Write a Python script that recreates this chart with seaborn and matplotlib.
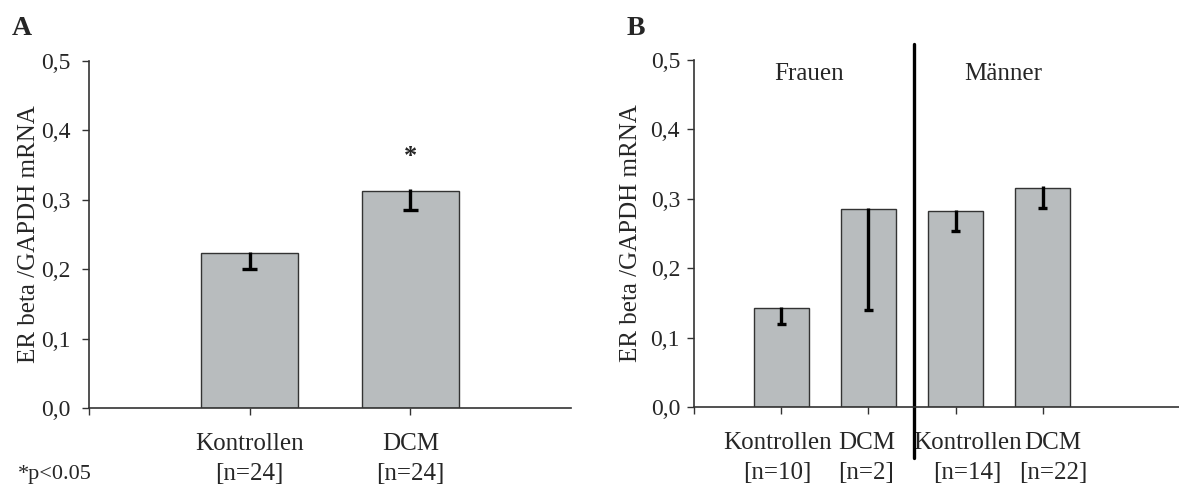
import numpy as np
import pandas as pd
import matplotlib
matplotlib.use("Agg")
import matplotlib.pyplot as plt
import matplotlib.transforms as mtransforms
import seaborn as sns

# data
a_groups = ["Kontrollen\n[n=24]", "DCM\n[n=24]"]
a_means = [0.223, 0.313]
a_lower = [0.200, 0.285]

b_groups = ["Kontrollen\n[n=10]", "DCM\n[n=2]", "Kontrollen\n[n=14]", "DCM\n[n=22]"]
b_means = [0.142, 0.285, 0.282, 0.316]
b_lower = [0.120, 0.140, 0.253, 0.287]

y_ticks = [0.0, 0.1, 0.2, 0.3, 0.4, 0.5]
y_label = "ER beta /GAPDH mRNA"

sns.set_style("white")
plt.rcParams['font.family'] = ['Liberation Serif', 'DejaVu Serif']

bar_color = "#b8bcbe"
edge = "#333333"

fig = plt.figure(figsize=(11.79, 4.84), dpi=100)
axA = fig.add_axes([89 / 1179, 1 - 408 / 484, (571 - 89) / 1179, 347 / 484])
axB = fig.add_axes([694 / 1179, 1 - 407 / 484, (1179 - 694) / 1179, 347 / 484])


def draw_panel(ax, groups, means, lower, width, cap, ypad, tpad):
    df = pd.DataFrame({"group": groups, "value": means})
    sns.barplot(data=df, x="group", y="value", order=groups, color=bar_color,
                width=width, edgecolor=edge, linewidth=1, saturation=1, ax=ax)
    xs = np.arange(len(groups))
    # one-sided (lower) error bars
    ax.vlines(xs, lower, np.array(means) + 0.002, color="black", lw=2.4, zorder=5)
    ax.hlines(lower, xs - cap, xs + cap, color="black", lw=2.4, zorder=5)
    ax.set_ylim(0, 0.5)
    ax.set_yticks(y_ticks)
    ax.set_yticklabels([f"{t:.1f}".replace(".", ",") for t in y_ticks], fontsize=17)
    ax.set_xticks(np.arange(-1, len(groups)))
    ax.set_xticklabels([""] + groups, fontsize=18, linespacing=1.45)
    ax.set_xlabel("")
    ax.set_ylabel(y_label, fontsize=18, labelpad=ypad)
    ax.tick_params(axis="both", direction="out", length=5, width=1, color=edge,
                   left=True, bottom=True)
    ax.tick_params(axis="x", pad=13)
    ax.tick_params(axis="y", pad=tpad)
    for s in ["top", "right"]:
        ax.spines[s].set_visible(False)
    for s in ["left", "bottom"]:
        ax.spines[s].set_color(edge)
        ax.spines[s].set_linewidth(1.2)


draw_panel(axA, a_groups, a_means, a_lower, 0.6, 0.047, 1, 8)
axA.set_xlim(-1, 2)
axA.text(1, 0.362, "*", ha="center", va="center", fontsize=19, fontweight="bold")

draw_panel(axB, b_groups, b_means, b_lower, 0.63, 0.052, 6, 5)
axB.set_xlim(-1, 4.56)
axB.axvline(1.52, ymin=-0.147, ymax=1.046, color="black", lw=2.4, clip_on=False)
axB.text(0.32, 0.480, "Frauen", ha="center", va="center", fontsize=18)
axB.text(2.54, 0.480, "Männer", ha="center", va="center", fontsize=18)

# small shifts of the group labels in B as in the original
shifts = [0, -4, -2, 12, 10]
for lab, dx in zip(axB.get_xticklabels(), shifts):
    lab.set_transform(lab.get_transform() + mtransforms.ScaledTranslation(dx / 100, 0, fig.dpi_scale_trans))

fig.text(12 / 1179, 1 - 35 / 484, "A", fontsize=20, fontweight="bold")
fig.text(627 / 1179, 1 - 35 / 484, "B", fontsize=20, fontweight="bold")
fig.text(18 / 1179, 1 - 479 / 484, "*p<0.05", fontsize=16)

fig.savefig("out.png", dpi=100)
